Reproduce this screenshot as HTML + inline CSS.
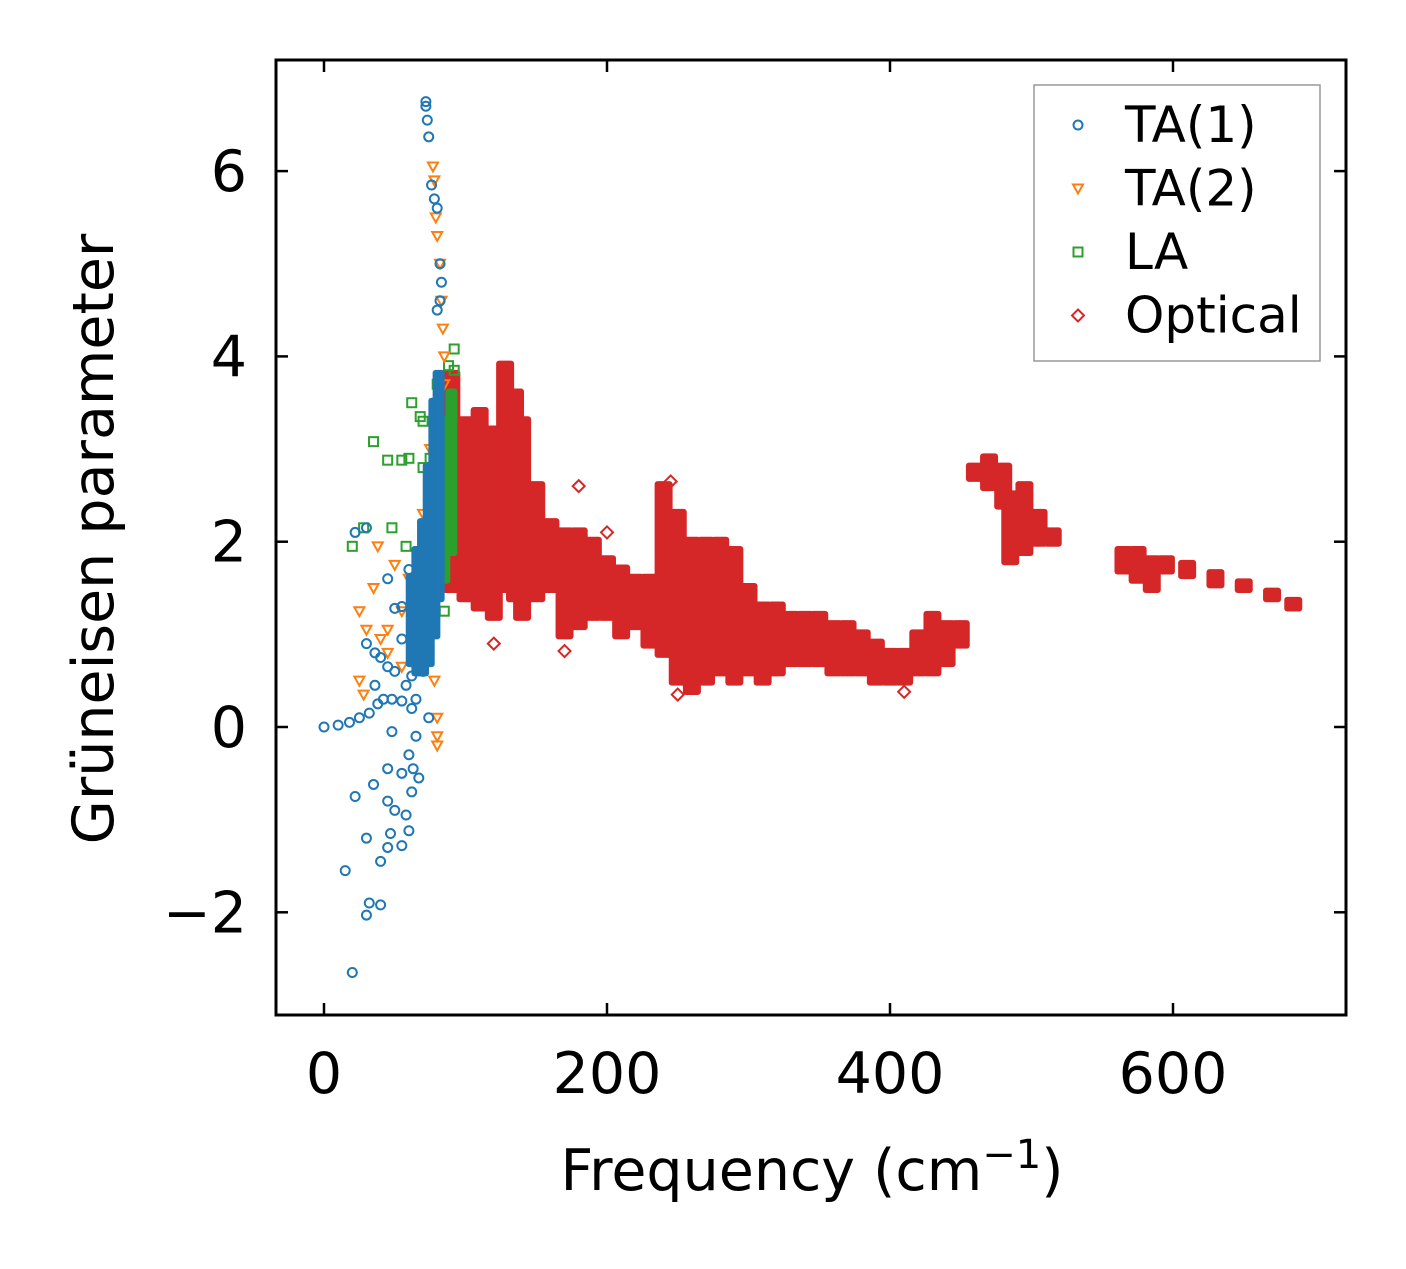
<!DOCTYPE html>
<html><head><meta charset="utf-8"><style>
body{margin:0;background:#fff}
svg text{font-family:"DejaVu Sans","Liberation Sans",sans-serif;fill:#000}
</style></head><body>
<svg id="c" width="1406" height="1264" xmlns="http://www.w3.org/2000/svg"></svg>
<script>
const xTicks=[0,200,400,600];
const yTicks=[-2,0,2,4,6];
const ta1Pts=[[0,0],[10,0.02],[18,0.05],[25,0.1],[32,0.15],[38,0.25],[42,0.3],[48,0.3],[55,0.28],[36,0.45],[40,0.75],[36,0.8],[30,0.9],[45,0.65],[50,0.6],[55,0.95],[58,0.45],[62,0.2],[65,0.3],[48,-0.05],[60,-0.3],[65,-0.1],[63,-0.45],[67,-0.55],[62,-0.7],[55,-0.5],[45,-0.45],[50,-0.9],[35,-0.62],[22,-0.75],[45,-0.8],[58,-0.95],[47,-1.15],[55,-1.28],[60,-1.12],[45,-1.3],[40,-1.45],[30,-1.2],[15,-1.55],[32,-1.9],[40,-1.92],[30,-2.03],[20,-2.65],[22,2.1],[30,2.15],[45,1.6],[60,1.7],[55,1.3],[50,1.28],[62,0.55],[68,0.9],[70,0.6],[74,0.1],[72,6.75],[72,6.7],[73,6.55],[74,6.37],[76,5.85],[78,5.7],[80,5.6],[82,5.0],[83,4.8],[82,4.6],[80,4.5]];
const ta1Bands=[[62,0.7,1.6],[66,0.6,1.9],[70,0.6,2.2],[74,0.7,2.8],[78,1.0,3.5],[81,1.4,3.8]];
const ta2Pts=[[25,0.5],[28,0.35],[25,1.25],[30,1.05],[35,1.5],[40,0.95],[45,1.05],[38,1.95],[50,1.75],[55,1.25],[60,1.6],[45,0.8],[55,0.65],[65,1.3],[70,2.3],[75,3.0],[78,0.5],[80,0.1],[80,-0.1],[80,-0.2],[77,6.05],[78,5.9],[79,5.5],[80,5.3],[82,5.0],[83,4.6],[84,4.3],[85,4.0],[85,3.7]];
const laPts=[[20,1.95],[28,2.15],[35,3.08],[45,2.88],[48,2.15],[55,2.88],[58,1.95],[60,2.9],[62,3.5],[68,3.35],[70,3.3],[75,2.9],[80,3.7],[88,3.9],[92,4.08],[92,3.85],[85,1.25],[70,2.8]];
const laBands=[[85,1.6,3.3],[90,1.9,3.6]];
const optPts=[[180,2.6],[120,0.9],[170,0.82],[200,2.1],[410,0.38],[245,2.65],[250,0.35],[320,1.25],[355,0.95]];
const optBands=[[90,1.5,3.8],[100,1.4,3.3],[110,1.3,3.4],[120,1.2,3.2],[128,1.5,3.9],[135,1.4,3.6],[140,1.2,3.3],[150,1.4,2.6],[160,1.5,2.2],[170,1.0,2.1],[180,1.1,2.1],[190,1.2,2.0],[200,1.2,1.8],[210,1.0,1.7],[220,1.1,1.6],[230,0.9,1.6],[240,0.8,2.6],[250,0.5,2.3],[260,0.4,2.0],[270,0.5,2.0],[280,0.6,2.0],[290,0.5,1.9],[300,0.6,1.5],[310,0.5,1.3],[320,0.6,1.3],[330,0.7,1.2],[340,0.7,1.2],[350,0.7,1.2],[360,0.6,1.1],[370,0.6,1.1],[380,0.6,1.0],[390,0.5,0.9],[400,0.5,0.8],[410,0.5,0.8],[420,0.6,1.0],[430,0.6,1.2],[440,0.7,1.1],[450,0.9,1.1],[460,2.7,2.8],[470,2.6,2.9],[480,2.4,2.8],[485,1.8,2.5],[495,1.9,2.6],[505,2.0,2.3],[515,2.0,2.1],[565,1.7,1.9],[575,1.6,1.9],[585,1.5,1.8],[595,1.7,1.8],[610,1.65,1.75],[630,1.55,1.65],[650,1.5,1.55],[670,1.4,1.45],[685,1.3,1.35]];
const L=276,R=1346,T=60,B=1015;
const X=v=>324+v*1.415, Y=v=>727-v*92.65;
const svg=document.getElementById('c');const NS='http://www.w3.org/2000/svg';
function mk(t,a,p){const e=document.createElementNS(NS,t);for(const k in a)e.setAttribute(k,a[k]);(p||svg).appendChild(e);return e;}
const C={b:'#1f77b4',o:'#ff7f0e',g:'#2ca02c',r:'#d62728'};
function marker(kind,x,y,col,g){
 if(kind==='c')return mk('circle',{cx:x,cy:y,r:4.5,fill:'none',stroke:col,'stroke-width':2},g);
 if(kind==='t')return mk('polygon',{points:`${x-5},${y-4} ${x+5},${y-4} ${x},${y+5}`,fill:'none',stroke:col,'stroke-width':2},g);
 if(kind==='s')return mk('rect',{x:x-4.5,y:y-4.5,width:9,height:9,fill:'none',stroke:col,'stroke-width':2},g);
 return mk('polygon',{points:`${x},${y-6} ${x+6},${y} ${x},${y+6} ${x-6},${y}`,fill:'none',stroke:col,'stroke-width':2},g);
}
function series(name,kind,col,pts,bands,bw){
 const g=mk('g',{});
 (bands||[]).forEach(b=>{const r=mk('rect',{x:X(b[0])-bw/2-4,y:Y(b[2])-5,width:bw+8,height:Y(b[1])-Y(b[2])+10,fill:col,rx:3},g);});
 pts.forEach(p=>{const m=marker(kind,X(p[0]),Y(p[1]),col,g);});
}
series('optical-series','d',C.r,optPts,optBands,10);
series('la-series','s',C.g,laPts,laBands,4);
series('ta2-series','t',C.o,ta2Pts,[],0);
series('ta1-series','c',C.b,ta1Pts,ta1Bands,4);
const fr=mk('rect',{x:L,y:T,width:R-L,height:B-T,fill:'none',stroke:'#000','stroke-width':3});

xTicks.forEach(v=>{const x=X(v);mk('line',{x1:x,x2:x,y1:B,y2:B-12,stroke:'#000','stroke-width':2.5});mk('line',{x1:x,x2:x,y1:T,y2:T+12,stroke:'#000','stroke-width':2.5});
 const t=mk('text',{x:x,y:1093,'font-size':57,'text-anchor':'middle'});t.textContent=v;});
yTicks.forEach(v=>{const y=Y(v);mk('line',{x1:L,x2:L+12,y1:y,y2:y,stroke:'#000','stroke-width':2.5});mk('line',{x1:R,x2:R-12,y1:y,y2:y,stroke:'#000','stroke-width':2.5});
 const t=mk('text',{x:247,y:y+20,'font-size':57,'text-anchor':'end'});t.textContent=v<0?'\u2212'+(-v):v;});
const xl=mk('text',{x:812,y:1190,'font-size':57,'text-anchor':'middle'});xl.innerHTML='Frequency (cm<tspan dy="-22" font-size="40">\u22121</tspan><tspan dy="22">)</tspan>';

const yl=mk('text',{x:0,y:0,'font-size':57,'text-anchor':'middle',transform:'translate(113,539) rotate(-90)'});yl.textContent='Grüneisen parameter';

const lg=mk('g',{});
mk('rect',{x:1034,y:85,width:286,height:276,fill:'#fff',stroke:'#999','stroke-width':1.5},lg);
[['TA(1)','c',C.b],['TA(2)','t',C.o],['LA','s',C.g],['Optical','d',C.r]].forEach((e,i)=>{const y=125+i*63.5;
 const g=mk('g',{},lg);
 marker(e[1],1078,y,e[2],g);const t=mk('text',{x:1125,y:y+17,'font-size':50},g);t.textContent=e[0];});
</script>
</body></html>
